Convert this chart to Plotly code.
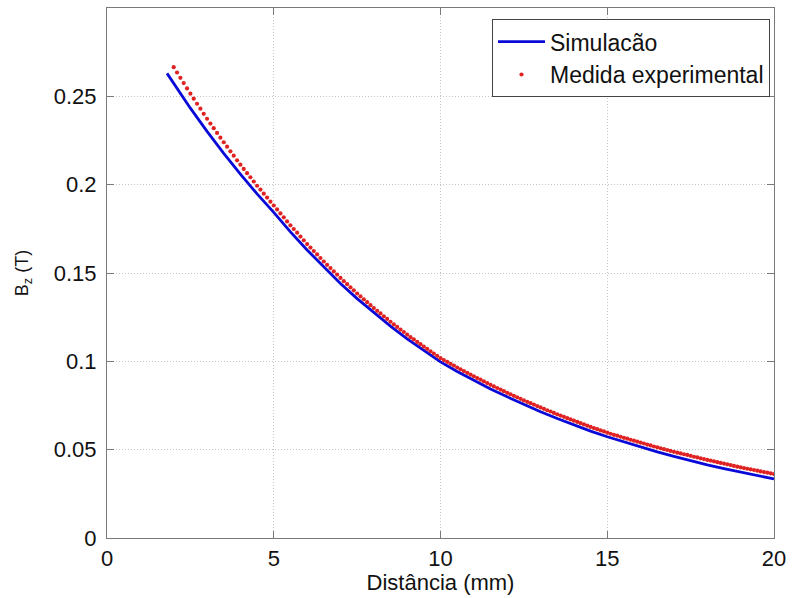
import numpy as np
import plotly.graph_objects as go

# Simulated axial field B_z (T) along the distance from the magnet face (mm)
sim_x = [1.8, 2.0, 2.5, 3.0, 3.5, 4.0, 4.5, 5.0, 5.5, 6.0, 6.5, 7.0, 7.5, 8.0,
         8.5, 9.0, 9.5, 10.0, 10.5, 11.0, 11.5, 12.0, 12.5, 13.0, 13.5, 14.0,
         14.5, 15.0, 15.5, 16.0, 16.5, 17.0, 17.5, 18.0, 18.5, 19.0, 19.5, 20.0]
sim_bz = [0.2630, 0.2572, 0.2433, 0.2302, 0.2177, 0.2060, 0.1948, 0.1843,
          0.1733, 0.1630, 0.1533, 0.1441, 0.1355, 0.1275, 0.1199, 0.1127,
          0.1060, 0.0997, 0.0943, 0.0892, 0.0844, 0.0799, 0.0756, 0.0715,
          0.0676, 0.0640, 0.0605, 0.0573, 0.0543, 0.0514, 0.0487, 0.0462,
          0.0437, 0.0414, 0.0393, 0.0372, 0.0352, 0.0334]

# Measured field, sampled every 0.1 mm from 2.0 mm to 20.0 mm
exp_x = np.round(np.arange(2.0, 20.05, 0.1), 1)
exp_bz = [
    0.2665, 0.2635, 0.2605, 0.2575, 0.2545, 0.2515, 0.2487, 0.2458, 0.2430, 0.2401,
    0.2373, 0.2346, 0.2320, 0.2293, 0.2266, 0.2240, 0.2215, 0.2189, 0.2164, 0.2138,
    0.2113, 0.2089, 0.2065, 0.2042, 0.2018, 0.1994, 0.1972, 0.1949, 0.1927, 0.1904,
    0.1882, 0.1860, 0.1837, 0.1815, 0.1792, 0.1770, 0.1749, 0.1728, 0.1706, 0.1685,
    0.1664, 0.1644, 0.1624, 0.1605, 0.1585, 0.1565, 0.1546, 0.1528, 0.1509, 0.1491,
    0.1472, 0.1454, 0.1437, 0.1419, 0.1402, 0.1384, 0.1368, 0.1351, 0.1335, 0.1318,
    0.1302, 0.1286, 0.1271, 0.1255, 0.1240, 0.1224, 0.1209, 0.1195, 0.1180, 0.1166,
    0.1151, 0.1137, 0.1124, 0.1110, 0.1097, 0.1083, 0.1070, 0.1057, 0.1044, 0.1031,
    0.1018, 0.1007, 0.0997, 0.0986, 0.0976, 0.0965, 0.0955, 0.0945, 0.0935, 0.0925,
    0.0915, 0.0905, 0.0896, 0.0886, 0.0877, 0.0867, 0.0858, 0.0849, 0.0840, 0.0831,
    0.0822, 0.0813, 0.0805, 0.0796, 0.0788, 0.0779, 0.0771, 0.0763, 0.0755, 0.0747,
    0.0739, 0.0731, 0.0723, 0.0716, 0.0708, 0.0700, 0.0693, 0.0686, 0.0678, 0.0671,
    0.0664, 0.0657, 0.0650, 0.0643, 0.0636, 0.0629, 0.0622, 0.0616, 0.0609, 0.0603,
    0.0596, 0.0590, 0.0584, 0.0579, 0.0573, 0.0567, 0.0562, 0.0556, 0.0551, 0.0545,
    0.0540, 0.0535, 0.0529, 0.0524, 0.0518, 0.0513, 0.0508, 0.0503, 0.0498, 0.0493,
    0.0488, 0.0483, 0.0479, 0.0474, 0.0470, 0.0465, 0.0460, 0.0456, 0.0451, 0.0447,
    0.0442, 0.0438, 0.0434, 0.0429, 0.0425, 0.0421, 0.0417, 0.0413, 0.0408, 0.0404,
    0.0400, 0.0396, 0.0392, 0.0389, 0.0385, 0.0381, 0.0377, 0.0373, 0.0370, 0.0366,
    0.0362,
]

x_ticks = [0, 5, 10, 15, 20]
y_ticks = [0, 0.05, 0.1, 0.15, 0.2, 0.25]
y_tick_text = ["0", "0.05", "0.1", "0.15", "0.2", "0.25"]

FONT = "Liberation Sans, Arial, sans-serif"
AXIS_GREY = "#7a7a7a"
GRID_GREY = "#c4c4c4"

fig = go.Figure()
fig.add_trace(go.Scatter(
    x=sim_x, y=sim_bz, mode="lines", name="Simulacão",
    line=dict(color="#0a0ad8", width=2.8),
))
fig.add_trace(go.Scatter(
    x=exp_x, y=exp_bz, mode="markers", name="Medida experimental",
    marker=dict(color="#e02222", size=4.2, line=dict(width=0)),
))

axis_common = dict(
    showline=True, linecolor=AXIS_GREY, linewidth=1.2, mirror="ticks",
    ticks="inside", ticklen=7, tickcolor=AXIS_GREY, tickwidth=1,
    showgrid=True, gridcolor=GRID_GREY, griddash="1px,2px", gridwidth=1,
    zeroline=False, tickfont=dict(family=FONT, size=22, color="#111111"),
)

fig.update_xaxes(
    range=[0, 20], tickvals=x_ticks, ticklabelstandoff=0,
    title=dict(text="Distância (mm)", font=dict(family=FONT, size=22, color="#111111"),
               standoff=4),
    **axis_common,
)
fig.update_yaxes(
    range=[0, 0.3], tickvals=y_ticks, ticktext=y_tick_text, ticklabelstandoff=5,
    title=dict(text="B<sub>z</sub> (T)", font=dict(family=FONT, size=18, color="#111111"),
               standoff=20),
    **axis_common,
)

fig.update_layout(
    width=793, height=598,
    margin=dict(l=107, r=16, t=7, b=60),
    paper_bgcolor="white", plot_bgcolor="white",
    showlegend=True,
    legend=dict(
        x=0.994, y=0.979, xanchor="right", yanchor="top",
        bgcolor="white", bordercolor="#444444", borderwidth=1,
        font=dict(family=FONT, size=23, color="#111111"),
        itemwidth=47,
    ),
)

fig.write_html("out.html")
